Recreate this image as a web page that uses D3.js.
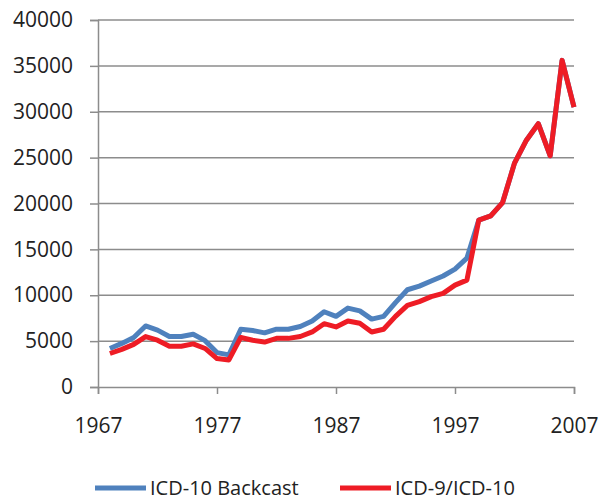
<!DOCTYPE html>
<html>
<head>
<meta charset="utf-8">
<script src="https://cdn.jsdelivr.net/npm/d3@7"></script>
<style>
  body { margin: 0; background: #fff; }
  text { font-family: "Open Sans", "Noto Sans", sans-serif; fill: #222; }
</style>
</head>
<body>
<svg id="chart" width="600" height="501"></svg>
<script>
// years 1968..2007
var years = d3.range(1968, 2008);
var backcast = [4200, 4750, 5400, 6650, 6200, 5500, 5500, 5750, 5050, 3750,
                3500, 6300, 6150, 5900, 6300, 6300, 6600, 7200, 8200, 7700,
                8600, 8300, 7400, 7700, 9200, 10600, 11000, 11550, 12100, 12850,
                14050, 18200, 18650, 20100, 24400, 26900, 28700, 25200, 35600, 30500];
var icd9 = [3650, 4100, 4650, 5500, 5100, 4450, 4450, 4700, 4200, 3100,
            2950, 5400, 5100, 4900, 5300, 5300, 5500, 6000, 6900, 6550,
            7200, 6950, 6000, 6300, 7700, 8900, 9300, 9850, 10200, 11100,
            11650, 18200, 18650, 20100, 24400, 26900, 28700, 25200, 35600, 30500];
var yTicks = [0, 5000, 10000, 15000, 20000, 25000, 30000, 35000, 40000];
var xTicks = [1967, 1977, 1987, 1997, 2007];
var seriesNames = ["ICD-10 Backcast", "ICD-9/ICD-10"];
var colors = ["#4F81BD", "#EE1C25"];

var svg = d3.select("#chart");
var x = d3.scaleLinear().domain([1967, 2007]).range([98, 574]);
var y = d3.scaleLinear().domain([0, 40000]).range([387, 20]);

// gridlines
svg.append("g")
  .selectAll("line").data(yTicks.slice(1)).enter()
  .append("line")
  .attr("x1", x(1967)).attr("x2", x(2007))
  .attr("y1", function(d){ return y(d); })
  .attr("y2", function(d){ return y(d); })
  .attr("stroke", "#8c8c8c")
  .attr("stroke-width", 1.5);

// y axis
var yAxis = svg.append("g")
  .attr("transform", "translate(" + x(1967) + ",0)")
  .call(d3.axisLeft(y).tickValues(yTicks).tickFormat(d3.format("d")).tickSize(8).tickPadding(17));
yAxis.select(".domain").attr("stroke", "#8c8c8c").attr("stroke-width", 1.5);
yAxis.selectAll(".tick line").attr("stroke", "#8c8c8c").attr("stroke-width", 1.5);
yAxis.selectAll("text").attr("font-size", 21).attr("fill", "#222");

// x axis
var xAxis = svg.append("g")
  .attr("transform", "translate(0," + y(0) + ")")
  .call(d3.axisBottom(x).tickValues(xTicks).tickFormat(d3.format("d")).tickSize(7).tickPadding(24));
xAxis.select(".domain").attr("stroke", "#8c8c8c").attr("stroke-width", 1.5);
xAxis.selectAll(".tick line").attr("stroke", "#8c8c8c").attr("stroke-width", 1.5);
xAxis.selectAll("text").attr("font-size", 21).attr("fill", "#222");

var line = d3.line()
  .x(function(d){ return x(d[0]); })
  .y(function(d){ return y(d[1]); });

[backcast, icd9].forEach(function(vals, i){
  svg.append("path")
    .datum(years.map(function(yr, j){ return [yr, vals[j]]; }))
    .attr("fill", "none")
    .attr("stroke", colors[i])
    .attr("stroke-width", 5)
    .attr("stroke-linejoin", "round")
    .attr("d", line);
});

// legend
var legendX = [95, 340];
seriesNames.forEach(function(name, i){
  var g = svg.append("g").attr("transform", "translate(" + legendX[i] + ",488)");
  g.append("line").attr("x1", 0).attr("x2", 51).attr("y1", 0).attr("y2", 0)
    .attr("stroke", colors[i]).attr("stroke-width", 5);
  g.append("text").attr("x", 55).attr("y", 7).attr("font-size", 20).text(name);
});
</script>
</body>
</html>
